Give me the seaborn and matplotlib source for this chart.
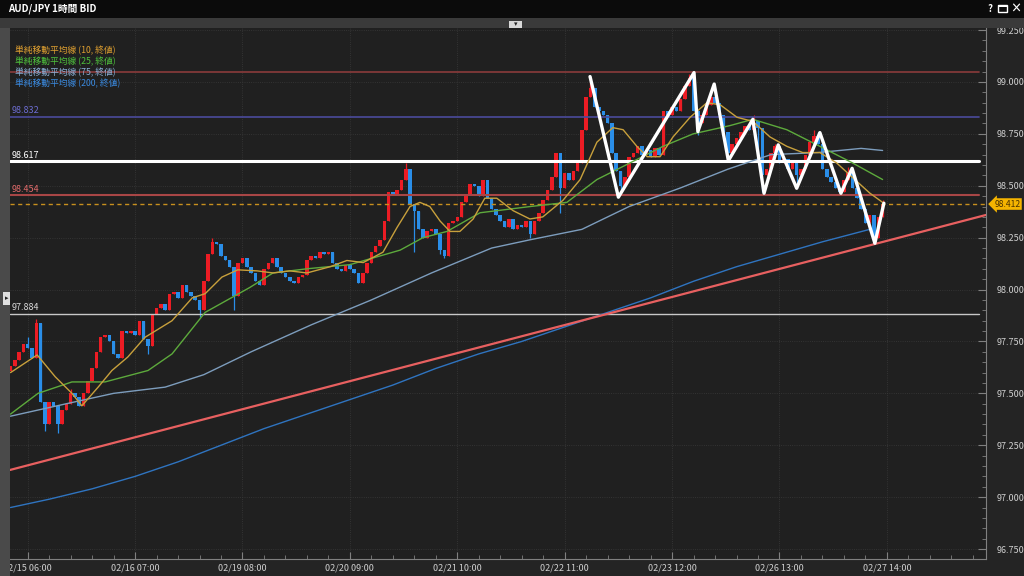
import numpy as np
import pandas as pd
import matplotlib
matplotlib.use("Agg")
import matplotlib.pyplot as plt
import seaborn as sns
from matplotlib.patches import Rectangle
from matplotlib.ticker import MultipleLocator, FormatStrFormatter
from matplotlib.transforms import blended_transform_factory

sns.set_theme(style="dark")
plt.rcParams['font.family'] = ['Noto Sans CJK JP', 'DejaVu Sans']

# ---- data (hourly bars, bar 0 = 02/15 06:00) ----
first_bar = -4
first_open = 97.61
close = [
    97.63, 97.66, 97.70, 97.74,                                       # -4..-1
    97.72, 97.67, 97.84, 97.46, 97.35, 97.46, 97.44, 97.35, 97.42, 97.45,   # 0..9
    97.50, 97.48, 97.44, 97.50, 97.56, 97.62, 97.70, 97.77, 97.78, 97.75,   # 10..19
    97.69, 97.67, 97.80, 97.79, 97.80, 97.78, 97.85, 97.76, 97.73, 97.88,   # 20..29
    97.91, 97.93, 97.90, 97.98, 97.99, 97.96, 98.02, 97.99, 97.97, 97.95,   # 30..39
    97.90, 98.04, 98.17, 98.23, 98.22, 98.16, 98.14, 98.11, 97.97, 98.13,   # 40..49
    98.15, 98.11, 98.08, 98.04, 98.02, 98.10, 98.13, 98.15, 98.11, 98.08,   # 50..59
    98.06, 98.04, 98.03, 98.06, 98.07, 98.14, 98.16, 98.15, 98.18, 98.17,   # 60..69
    98.18, 98.13, 98.10, 98.09, 98.12, 98.10, 98.08, 98.03, 98.08, 98.13,   # 70..79
    98.18, 98.21, 98.24, 98.33, 98.47, 98.46, 98.48, 98.53, 98.58, 98.41,   # 80..89
    98.38, 98.29, 98.25, 98.28, 98.29, 98.27, 98.19, 98.16, 98.32, 98.33,   # 90..99
    98.35, 98.42, 98.46, 98.51, 98.50, 98.45, 98.53, 98.44, 98.39, 98.36,   # 100..109
    98.33, 98.30, 98.34, 98.29, 98.31, 98.30, 98.33, 98.27, 98.33, 98.37,   # 110..119
    98.43, 98.48, 98.54, 98.66, 98.49, 98.56, 98.53, 98.57, 98.61, 98.77,   # 120..129
    98.93, 98.97, 98.88, 98.86, 98.84, 98.80, 98.66, 98.57, 98.50, 98.54,   # 130..139
    98.64, 98.66, 98.69, 98.65, 98.67, 98.64, 98.68, 98.65, 98.86, 98.84,   # 140..149
    98.88, 98.86, 98.92, 98.98, 99.02, 98.86, 98.80, 98.84, 98.89, 98.93,   # 150..159
    98.90, 98.84, 98.76, 98.66, 98.70, 98.73, 98.76, 98.79, 98.77, 98.81,   # 160..169
    98.78, 98.55, 98.58, 98.66, 98.69, 98.61, 98.63, 98.58, 98.61, 98.55,   # 170..179
    98.58, 98.65, 98.71, 98.74, 98.70, 98.58, 98.54, 98.52, 98.49, 98.47,   # 180..189
    98.53, 98.56, 98.49, 98.44, 98.39, 98.32, 98.36, 98.25, 98.35, 98.412,  # 190..199
]
wick_bar = [0, 2, 4, 7, 10, 28, 40, 43, 48, 88, 90, 96, 97, 117, 124,
            131, 138, 154, 156, 169, 170, 171, 174, 179, 183, 184, 189, 191, 197, 199]
wick_price = [97.77, 97.86, 97.32, 97.31, 97.52, 97.69, 97.87, 98.25, 97.90, 98.61,
              98.18, 98.17, 98.15, 98.25, 98.37, 99.00, 98.465, 99.04, 98.745, 98.84,
              98.62, 98.47, 98.70, 98.49, 98.77, 98.76, 98.46, 98.59, 98.22, 98.43]

# moving averages
ma10_bar = [-4, 2.2, 6.4, 10.3, 12.6, 16.4, 19.6, 23.3, 27.3, 33.6, 38.3, 41.3, 45.2, 48.9,
            53.4, 57.1, 61, 65, 70.4, 74.3, 78.1, 82.7, 86, 89, 91.3, 93.6, 96, 98.3, 100.6,
            103.7, 106.4, 109.2, 113, 116.9, 119.9, 124.6, 128.6, 132.5, 136.2, 138.6, 141.8,
            144.2, 147.2, 150.2, 154.2, 158.1, 161.2, 165.1, 168.8, 172.8, 176.7, 180.4,
            184.4, 188.3, 192, 196, 199]
ma10_val = [97.60, 97.685, 97.58, 97.50, 97.44, 97.53, 97.61, 97.675, 97.77, 97.85, 97.96,
            97.98, 98.06, 98.095, 98.09, 98.08, 98.09, 98.08, 98.11, 98.14, 98.13, 98.18,
            98.30, 98.40, 98.42, 98.40, 98.33, 98.28, 98.28, 98.34, 98.44, 98.44, 98.38,
            98.34, 98.35, 98.43, 98.53, 98.71, 98.78, 98.77, 98.69, 98.64, 98.64, 98.735,
            98.83, 98.90, 98.89, 98.83, 98.81, 98.735, 98.69, 98.66, 98.66, 98.61, 98.54,
            98.465, 98.42]
ma25_bar = [-4, 2.4, 10.3, 18, 28, 33.6, 41.3, 51.7, 57.1, 65, 75, 86.7, 92, 97.6, 105.3,
            117, 125.5, 132.5, 140.2, 147.9, 154.9, 163.5, 168.8, 176.7, 184.4, 192, 199]
ma25_val = [97.40, 97.50, 97.555, 97.555, 97.61, 97.69, 97.89, 98.01, 98.08, 98.10, 98.12,
            98.19, 98.25, 98.28, 98.37, 98.40, 98.42, 98.53, 98.61, 98.69, 98.75, 98.79,
            98.82, 98.77, 98.69, 98.61, 98.53]
ma75_bar = [-4, 9, 20, 32, 41, 52, 66, 80, 94, 108, 117, 129, 140, 152, 163, 173, 184, 194, 199]
ma75_val = [97.39, 97.45, 97.50, 97.53, 97.59, 97.70, 97.83, 97.95, 98.08, 98.20, 98.24,
            98.29, 98.40, 98.49, 98.58, 98.65, 98.66, 98.68, 98.67]
ma200_bar = [-4, 5, 15, 25, 35, 45, 55, 65, 75, 85, 95, 105, 115, 125, 135, 145, 155,
             165, 175, 185, 196]
ma200_val = [96.95, 96.99, 97.04, 97.10, 97.17, 97.25, 97.33, 97.40, 97.47, 97.54, 97.62,
             97.69, 97.75, 97.82, 97.89, 97.96, 98.04, 98.11, 98.17, 98.23, 98.29]

# hand-drawn zigzag and trend line
zz_bar = [130.9, 137.5, 155.1, 156.0, 159.8, 163.1, 168.8, 171.4, 174.7, 179.0, 184.4,
          189.3, 191.9, 197.2, 199.3]
zz_price = [99.026, 98.445, 99.045, 98.761, 98.990, 98.621, 98.820, 98.464, 98.697,
            98.488, 98.756, 98.464, 98.584, 98.223, 98.416]
trend_bar = [-4.1, 223.0]
trend_price = [97.131, 98.359]

level_price = [99.048, 98.832, 98.617, 98.454, 97.884]
level_color = ['#8a3b3b', '#4b4b9b', '#ffffff', '#a84646', '#c8c8c8']
level_width = [1.2, 1.2, 2.2, 1.5, 1.0]
level_label = [None, '98.832', '98.617', '98.454', '97.884']
label_color = [None, '#6c6cd0', '#ffffff', '#e06a6a', '#d8d8d8']
bid = 98.412

date_bar = [0, 25, 50, 75, 100, 125, 150, 175, 200]
date_label = ['02/15 06:00', '02/16 07:00', '02/19 08:00', '02/20 09:00', '02/21 10:00',
              '02/22 11:00', '02/23 12:00', '02/26 13:00', '02/27 14:00']

legend_text = ['単純移動平均線 (10, 終値)', '単純移動平均線 (25, 終値)',
               '単純移動平均線 (75, 終値)', '単純移動平均線 (200, 終値)']
legend_color = ['#e0a030', '#4fc23c', '#8ab0d8', '#3a8ae0']

# ---- build OHLC ----
df = pd.DataFrame({'bar': np.arange(first_bar, first_bar + len(close)), 'close': close})
df['open'] = [first_open] + close[:-1]
df['high'] = df[['open', 'close']].max(axis=1)
df['low'] = df[['open', 'close']].min(axis=1)
for b, p in zip(wick_bar, wick_price):
    k = b - first_bar
    df.loc[k, 'high'] = max(df.loc[k, 'high'], p)
    df.loc[k, 'low'] = min(df.loc[k, 'low'], p)
up = df['close'] >= df['open']
cols = np.where(up, '#ec1c24', '#2a8ee8')

# ---- figure ----
W, H = 1024, 576
fig = plt.figure(figsize=(W / 100, H / 100), dpi=100, facecolor='#242424')
ax = fig.add_axes([10 / W, 1 - 559 / H, 976 / W, 531 / H])
ax.set_facecolor('#202020')

ax.set_xlim(-4.12, 223.07)
ax.set_ylim(96.702, 99.260)

ax.grid(True, which='major', color='#3a3a3a', lw=0.6, ls=':')

# candles
ax.vlines(df['bar'], df['low'], df['high'], colors=cols, lw=0.9, zorder=3)
body = (df['close'] - df['open']).abs().clip(lower=0.005)
ax.bar(df['bar'], body, bottom=df[['open', 'close']].min(axis=1), width=0.82,
       color=cols, linewidth=0, zorder=3)

# level lines
for p, c, w in zip(level_price, level_color, level_width):
    ax.axhline(p, color=c, lw=w, xmax=0.993, zorder=3.5)
for p, t, c in zip(level_price, level_label, label_color):
    if t:
        ax.text(-3.7, p + 0.008, t, color=c, fontsize=6.5, va='bottom', ha='left', zorder=6)
ax.axhline(bid, color='#c8901e', lw=1.0, ls=(0, (3, 2.5)), zorder=3.5)

# moving averages
sns.lineplot(x=ma200_bar, y=ma200_val, ax=ax, color='#2f74c0', lw=1.0, legend=False, zorder=4)
sns.lineplot(x=ma75_bar, y=ma75_val, ax=ax, color='#7d9dbd', lw=1.0, legend=False, zorder=4)
sns.lineplot(x=ma25_bar, y=ma25_val, ax=ax, color='#5daa3c', lw=1.0, legend=False, zorder=4)
sns.lineplot(x=ma10_bar, y=ma10_val, ax=ax, color='#c8a03c', lw=1.0, legend=False, zorder=4)

# trend line and zigzag
sns.lineplot(x=trend_bar, y=trend_price, ax=ax, color='#e86060', lw=1.6, legend=False, zorder=4)
sns.lineplot(x=zz_bar, y=zz_price, ax=ax, color='white', lw=2.4, sort=False,
             estimator=None, legend=False, zorder=5)

# axes styling
for s in ['left', 'top']:
    ax.spines[s].set_visible(False)
for s in ['right', 'bottom']:
    ax.spines[s].set_color('#808080')
    ax.spines[s].set_linewidth(0.8)
ax.yaxis.tick_right()
ax.yaxis.set_major_locator(MultipleLocator(0.25))
ax.yaxis.set_minor_locator(MultipleLocator(0.05))
ax.yaxis.set_major_formatter(FormatStrFormatter('%.3f'))
ax.set_xticks(date_bar)
ax.set_xticklabels(date_label)
ax.xaxis.set_minor_locator(MultipleLocator(5))
ax.tick_params(axis='y', which='both', direction='in', colors='#808080', labelcolor='#cfcfcf',
               labelsize=6.5, pad=8, right=True, left=False)
ax.tick_params(axis='y', which='major', length=6, width=0.8)
ax.tick_params(axis='y', which='minor', length=3, width=0.6)
ax.tick_params(axis='x', which='both', direction='in', colors='#808080', labelcolor='#cfcfcf',
               labelsize=6.5, pad=3, bottom=True)
ax.tick_params(axis='x', which='major', length=5, width=0.8)
ax.tick_params(axis='x', which='minor', length=3, width=0.6)
ax.set_xlabel('')
ax.set_ylabel('')

# current price tag
trans = blended_transform_factory(ax.transAxes, ax.transData)
ax.annotate(f'{bid:.3f}', xy=(1.0, bid), xycoords=trans, xytext=(6, 0),
            textcoords='offset points', ha='left', va='center', fontsize=6.2,
            color='#4a3200', annotation_clip=False, zorder=10,
            bbox=dict(boxstyle='larrow,pad=0.15', fc='#f5b400', ec='none'))

# legend text
for k, (t, c) in enumerate(zip(legend_text, legend_color)):
    fig.text(15 / W, 1 - (50 + 11.3 * k) / H, t, color=c, fontsize=6.3, va='center', ha='left')

# window chrome
top = fig.add_axes([0, 1 - 18 / H, 1, 18 / H])
top.set_facecolor('#0b0b0b')
top.set_xticks([]); top.set_yticks([])
for s in top.spines.values():
    s.set_visible(False)
top.set_xlim(0, W); top.set_ylim(18, 0)
top.text(8, 9, 'AUD/JPY 1時間 BID', color='white', fontsize=7, fontweight='bold', va='center')
top.text(990, 9, '?', color='white', fontsize=7, fontweight='bold', va='center', ha='center')
top.add_patch(Rectangle((998, 5), 9, 7, fill=False, ec='white', lw=1.0))
top.add_patch(Rectangle((998, 5), 9, 2, fc='white', ec='none'))
top.text(1016, 9, '×', color='white', fontsize=8, fontweight='bold', va='center', ha='center')

band = fig.add_axes([0, 1 - 28 / H, 1, 10 / H])
band.set_facecolor('#3a3a3a')
band.set_xticks([]); band.set_yticks([])
for s in band.spines.values():
    s.set_visible(False)
band.set_xlim(0, W); band.set_ylim(10, 0)
band.add_patch(Rectangle((509, 3), 13, 7, fc='#d8d8d8', ec='none'))
band.text(515.5, 6.5, '▾', color='#222222', fontsize=5, ha='center', va='center',
          family=['DejaVu Sans'])

side = fig.add_axes([0, 0, 10 / W, 1 - 28 / H])
side.set_facecolor('#4a4a4a')
side.set_xticks([]); side.set_yticks([])
for s in side.spines.values():
    s.set_visible(False)
side.set_xlim(0, 10); side.set_ylim(548, 0)
side.add_patch(Rectangle((3, 264), 7, 13, fc='#e0e0e0', ec='none'))
side.text(6.5, 270.5, '▸', color='#222222', fontsize=5, ha='center', va='center',
          family=['DejaVu Sans'])

plt.savefig('out.png', dpi=100, facecolor=fig.get_facecolor())
